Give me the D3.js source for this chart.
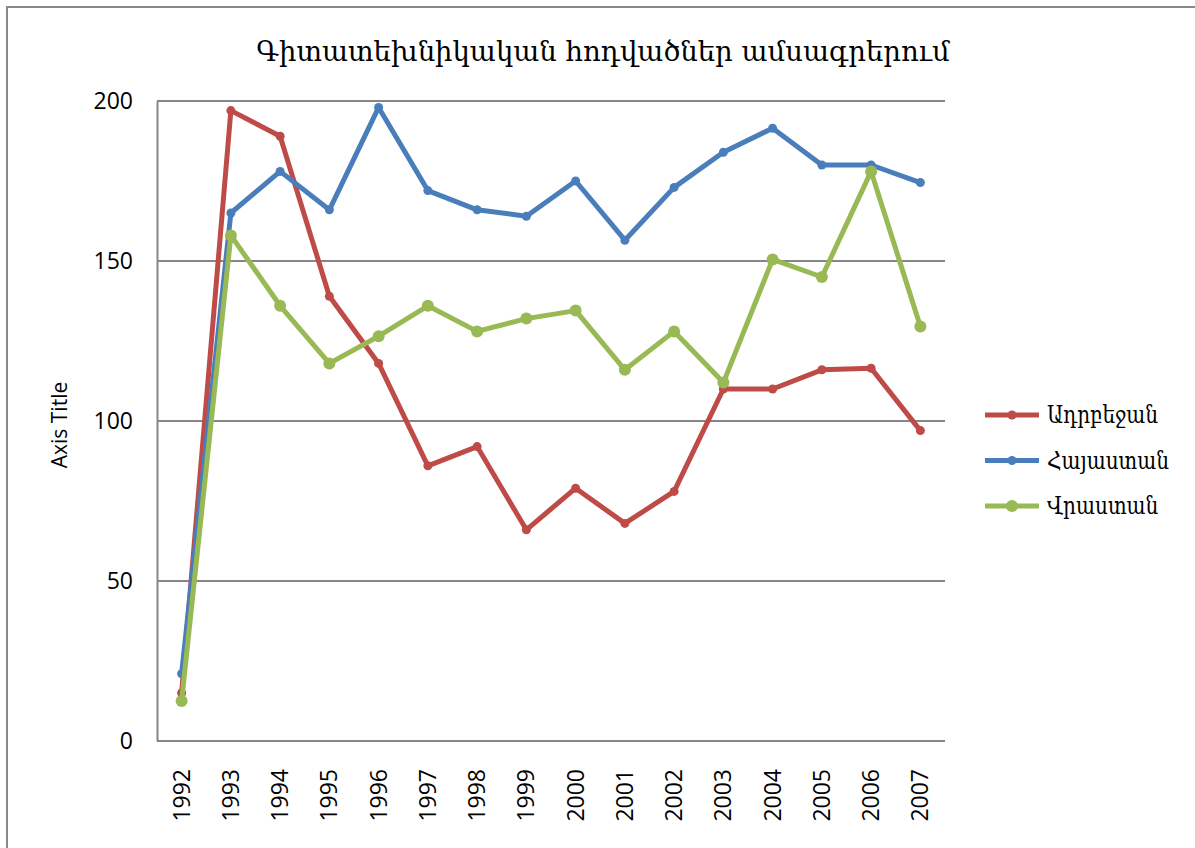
<!DOCTYPE html>
<html>
<head>
<meta charset="utf-8">
<script src="https://cdn.jsdelivr.net/npm/d3@7"></script>
<style>
  body { margin: 0; background: #fff; }
</style>
</head>
<body>
<script>
// chart data
const years = ["1992","1993","1994","1995","1996","1997","1998","1999","2000","2001","2002","2003","2004","2005","2006","2007"];
const azerbaijan = [15, 197, 189, 139, 118, 86, 92, 66, 79, 68, 78, 110, 110, 116, 116.5, 97];
const armenia = [21, 165, 178, 166, 198, 172, 166, 164, 175, 156.5, 173, 184, 191.5, 180, 180, 174.5];
const georgia = [12.5, 158, 136, 118, 126.5, 136, 128, 132, 134.5, 116, 128, 112, 150.5, 145, 178, 129.5];
const seriesNames = ["Ադրբեջան", "Հայաստան", "Վրաստան"];
const yTicks = [0, 50, 100, 150, 200];
const chartTitle = "Գիտատեխնիկական հոդվածներ ամսագրերում";

const W = 1195, H = 848;
const plot = { left: 157, right: 945, top: 101, bottom: 741 };
const GRID = "#868686";

const series = [
  { name: seriesNames[0], values: azerbaijan, color: "#BE4B48", width: 5, r: 4.5 },
  { name: seriesNames[1], values: armenia, color: "#4A7EBB", width: 5, r: 4.5 },
  { name: seriesNames[2], values: georgia, color: "#98B954", width: 5, r: 6 }
];

const svg = d3.select("body").append("svg")
  .attr("width", W).attr("height", H)
  .style("font-family", "'Open Sans', 'DejaVu Sans', sans-serif");

svg.append("rect").attr("width", W).attr("height", H).attr("fill", "#fff");

// outer chart border (runs off right/bottom edge)
svg.append("rect")
  .attr("x", 7).attr("y", 7).attr("width", W + 20).attr("height", H + 20)
  .attr("fill", "none").attr("stroke", "#898989").attr("stroke-width", 2);

const x = d3.scaleBand().domain(years).range([plot.left, plot.right]);
const y = d3.scaleLinear().domain([0, 200]).range([plot.bottom, plot.top]);

// gridlines
svg.append("g").selectAll("line").data(yTicks.filter(d => d > 0)).join("line")
  .attr("x1", plot.left).attr("x2", plot.right)
  .attr("y1", d => y(d)).attr("y2", d => y(d))
  .attr("stroke", GRID).attr("stroke-width", 2);

// y axis
const yAxis = svg.append("g").attr("transform", `translate(${plot.left},0)`)
  .call(d3.axisLeft(y).tickValues(yTicks).tickSize(0).tickPadding(24));
yAxis.select(".domain").attr("stroke", GRID).attr("stroke-width", 2);
yAxis.selectAll("text").attr("font-size", 23).attr("fill", "#000")
  .style("font-family", "'Open Sans', sans-serif");

// x axis
const xAxis = svg.append("g").attr("transform", `translate(0,${plot.bottom})`)
  .call(d3.axisBottom(x).tickSize(0));
xAxis.select(".domain").attr("stroke", GRID).attr("stroke-width", 2)
  .attr("d", `M${plot.left},0H${plot.right}`);
xAxis.selectAll("text")
  .attr("font-size", 23).attr("fill", "#000")
  .attr("transform", "rotate(-90)")
  .attr("text-anchor", "end")
  .attr("x", -28).attr("y", 0).attr("dy", "0.35em")
  .style("font-family", "'Open Sans', sans-serif");

// axis title
svg.append("text")
  .attr("transform", "translate(67,425) rotate(-90)")
  .attr("text-anchor", "middle")
  .attr("font-size", 21)
  .style("font-family", "'Open Sans', sans-serif")
  .text("Axis Title");

// title
svg.append("text")
  .attr("x", 603).attr("y", 61)
  .attr("text-anchor", "middle")
  .attr("font-size", 27.5)
  .style("font-family", "'DejaVu Serif', serif")
  .text(chartTitle);

// lines & markers
const line = d3.line()
  .x((d, i) => x(years[i]) + x.bandwidth() / 2)
  .y(d => y(d));

series.forEach(s => {
  const g = svg.append("g");
  g.append("path").datum(s.values)
    .attr("d", line).attr("fill", "none")
    .attr("stroke", s.color).attr("stroke-width", s.width)
    .attr("stroke-linejoin", "round");
  g.selectAll("circle").data(s.values).join("circle")
    .attr("cx", (d, i) => x(years[i]) + x.bandwidth() / 2)
    .attr("cy", d => y(d))
    .attr("r", s.r).attr("fill", s.color);
});

// legend
const legend = svg.append("g").attr("transform", "translate(985,415)");
const legendTexts = [];
series.forEach((s, i) => {
  const g = legend.append("g").attr("transform", `translate(0,${i * 45.5})`);
  g.append("line").attr("x1", 0).attr("x2", 54).attr("y1", 0).attr("y2", 0)
    .attr("stroke", s.color).attr("stroke-width", 5);
  g.append("circle").attr("cx", 27).attr("cy", 0).attr("r", s.r).attr("fill", s.color);
  legendTexts.push(g.append("text").attr("x", 62).attr("y", 0).attr("dy", "0.35em")
    .attr("font-size", 24)
    .style("font-family", "'DejaVu Serif', serif")
    .text(s.name));
});
// squeeze the legend labels so the widest one fits the space left of the edge
const widths = legendTexts.map(t => t.node().getComputedTextLength());
const k = Math.min(1, 122 / d3.max(widths));
legendTexts.forEach((t, i) => {
  t.attr("textLength", widths[i] * k).attr("lengthAdjust", "spacingAndGlyphs");
});
</script>
</body>
</html>
